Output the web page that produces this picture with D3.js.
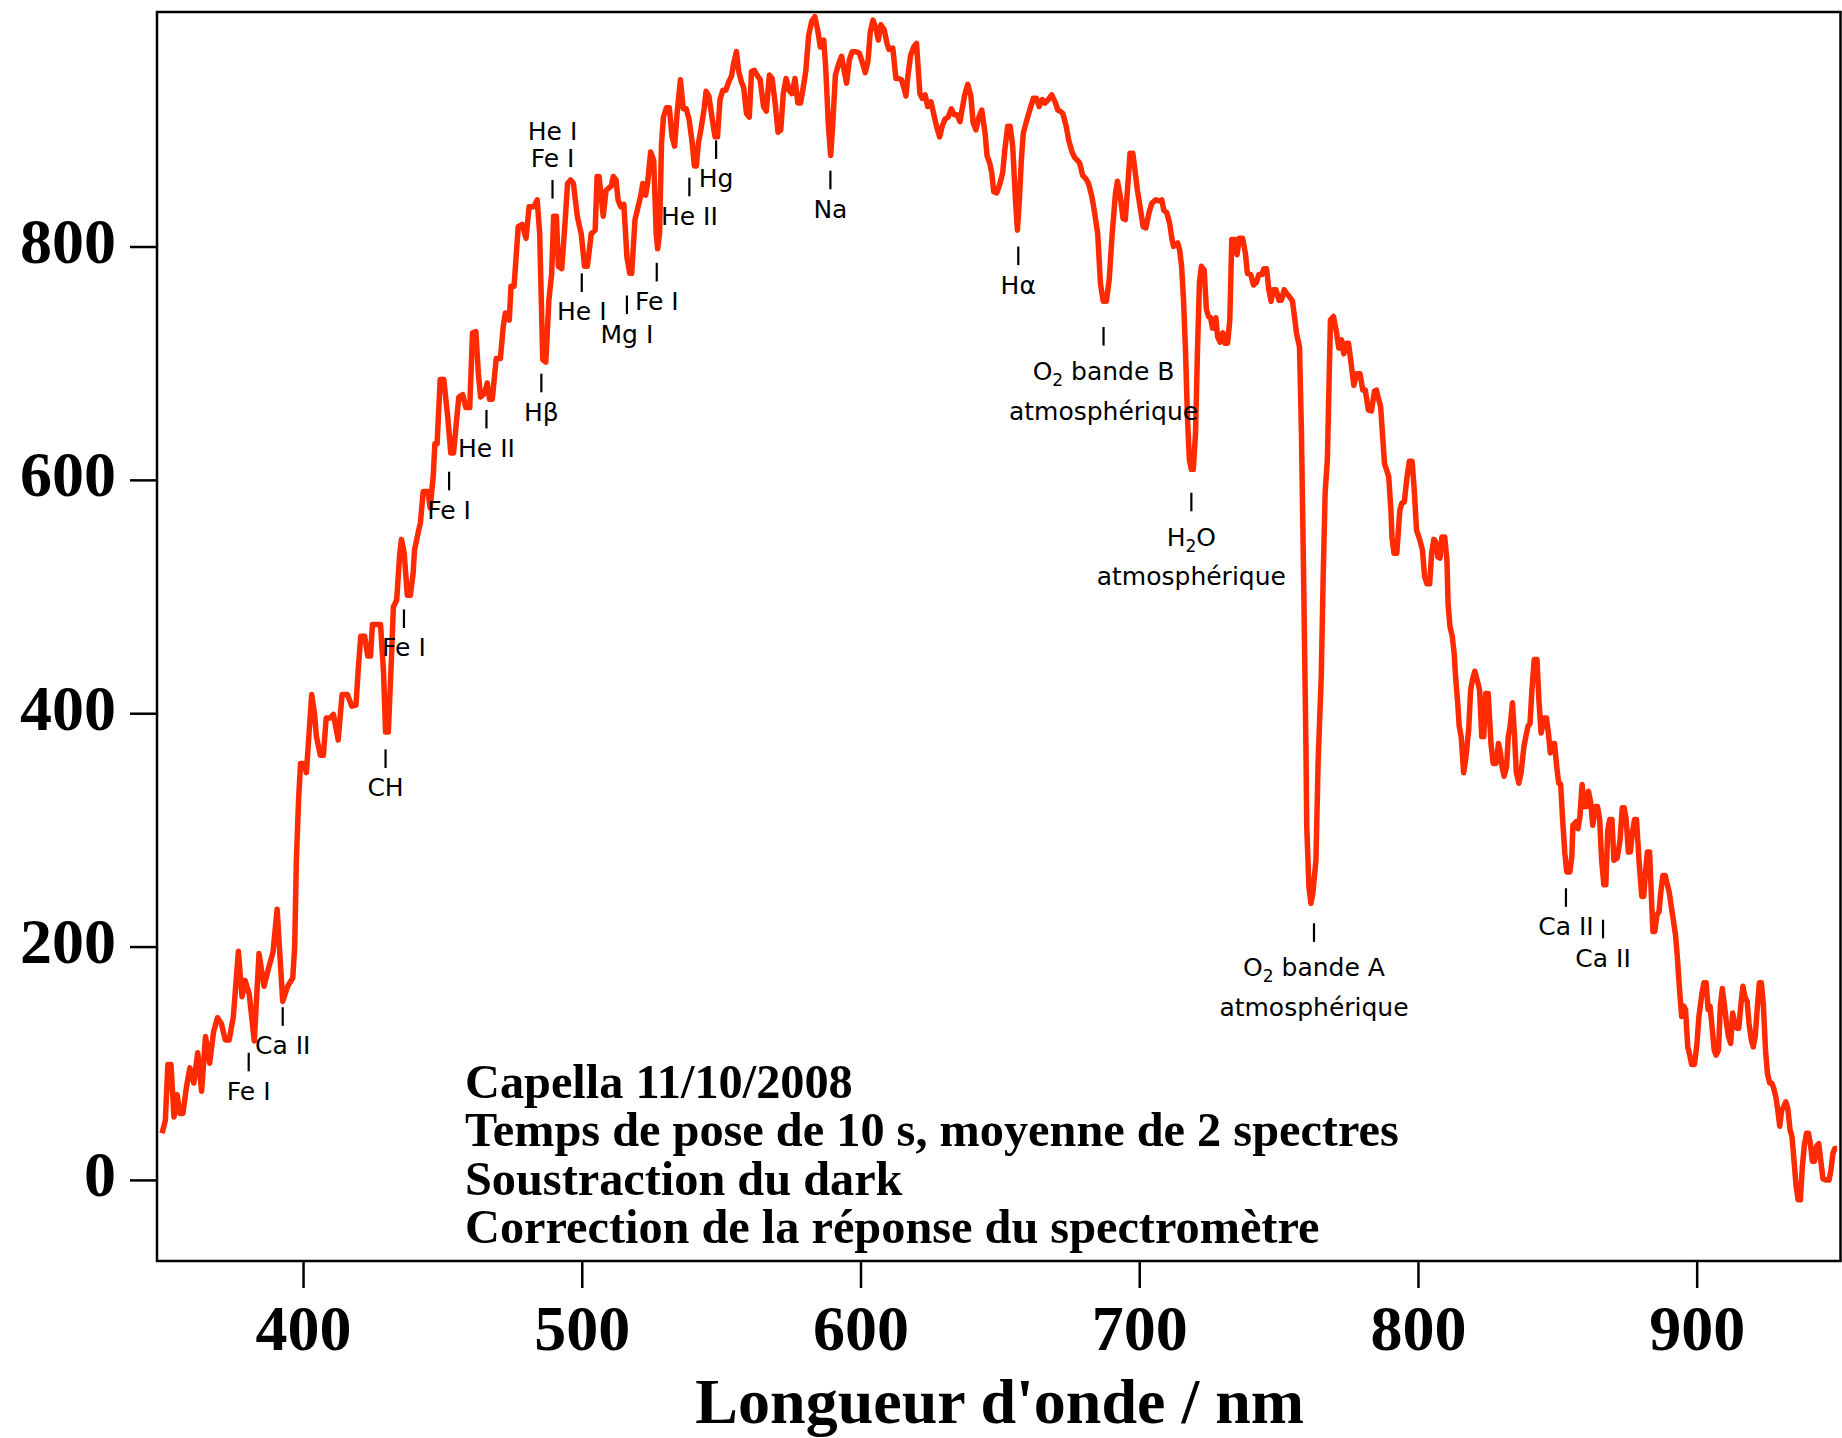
<!DOCTYPE html>
<html>
<head>
<meta charset="utf-8">
<script src="https://cdn.jsdelivr.net/npm/d3@7"></script>
<style>
  html, body { margin: 0; padding: 0; background: #ffffff; }
  svg { display: block; }
</style>
</head>
<body>
<svg id="chart" width="1842" height="1438"></svg>
<script>
// Spectrum of Capella: wavelength (nm) and corrected intensity
const wavelength = [
  349.4,350.6,351.5,352.6,353.7,354.8,355.8,356.9,358.2,359.4,360.8,362.2,363.6,365.0,366.5,367.9,369.3,370.7,372.1,373.5,
  375.0,376.8,378.1,379.2,380.7,382.5,384.2,386.0,387.8,389.2,390.7,392.7,394.5,396.3,397.0,397.6,398.4,399.1,400.3,401.2,
  403.1,404.1,404.8,406.2,407.3,408.3,409.8,410.9,412.6,414.0,415.9,417.5,419.0,419.7,420.7,422.1,423.2,424.2,424.9,427.8,
  428.9,429.6,430.6,431.7,432.4,433.6,434.6,435.3,436.3,437.4,438.5,439.5,440.0,441.4,442.1,443.1,444.8,445.6,446.7,447.3,
  448.1,449.2,450.5,451.9,453.0,454.0,455.2,455.9,457.3,458.4,459.8,460.8,462.0,462.9,463.7,465.1,466.1,466.9,467.9,469.3,
  470.8,471.8,472.6,474.0,474.6,475.7,477.2,478.6,480.0,481.1,482.8,484.0,484.9,486.0,487.1,488.2,489.2,489.9,490.9,491.6,
  492.8,493.9,494.9,496.0,497.0,498.4,499.2,499.8,501.0,502.0,503.4,504.8,505.5,506.2,507.7,508.7,510.6,511.3,512.3,513.0,
  514.0,515.1,516.2,517.2,517.9,519.1,520.1,521.1,521.9,522.9,523.6,524.7,525.8,526.7,527.2,527.9,528.6,529.3,530.4,531.4,
  532.4,533.3,534.3,535.4,536.4,537.5,538.5,539.5,540.4,541.1,541.8,542.8,543.9,544.6,545.6,546.7,547.8,548.7,549.6,550.6,
  551.7,552.7,553.7,554.5,555.5,556.3,557.3,558.1,559.1,560.1,560.9,561.9,563.1,564.0,565.2,566.2,567.3,568.3,569.5,570.4,
  571.4,572.3,573.3,574.4,575.4,576.5,577.5,578.5,579.7,580.4,581.4,582.5,583.6,584.6,585.6,586.8,587.5,588.5,589.3,590.0,
  591.0,592.1,593.2,594.2,595.0,596.0,597.0,598.1,599.5,600.5,601.7,602.7,603.5,604.5,605.6,606.4,607.3,608.5,609.5,610.2,
  611.6,612.7,613.7,614.7,615.6,616.3,617.0,618.0,619.1,620.1,621.3,622.2,623.2,624.1,625.3,626.5,627.5,628.4,629.3,630.3,
  631.5,632.6,633.6,634.7,635.7,636.4,637.4,638.5,639.6,640.4,641.4,642.5,643.5,644.7,645.4,646.4,647.1,647.8,648.9,649.9,
  651.0,651.8,652.8,653.7,654.6,655.6,656.3,657.0,657.7,658.4,659.5,660.6,662.0,663.1,664.1,665.2,666.2,667.4,668.6,669.8,
  670.8,671.6,672.6,673.8,674.7,675.9,676.9,677.8,678.7,679.7,680.9,681.8,683.0,684.0,685.1,686.1,687.1,688.2,689.2,690.3,
  691.5,692.2,693.2,694.2,695.0,696.0,696.7,697.7,698.6,699.3,700.3,701.4,702.4,703.5,704.5,705.9,707.4,708.1,708.8,709.9,
  710.9,711.7,712.3,713.8,714.5,715.2,715.9,716.6,717.3,718.0,718.7,719.4,720.2,720.9,721.6,722.3,723.3,724.1,724.9,725.6,
  726.3,727.0,727.5,728.1,729.0,730.0,730.7,731.7,732.5,733.2,734.4,735.1,735.9,737.1,738.1,738.8,740.0,741.0,742.0,742.9,
  744.0,744.7,745.7,746.5,747.3,748.1,749.1,750.1,751.0,752.0,753.1,753.9,755.0,755.7,756.4,757.5,758.2,758.9,759.8,760.1,
  760.9,761.6,762.3,763.4,764.2,765.3,766.0,766.7,767.5,768.6,769.7,770.8,771.6,772.6,773.4,774.4,775.1,776.0,777.0,778.0,
  779.2,780.2,781.1,782.2,783.3,784.4,785.1,785.8,786.6,788.0,789.5,790.3,790.7,791.4,792.4,793.5,794.2,795.1,796.1,796.9,
  797.9,798.6,799.5,800.6,801.6,802.4,803.2,804.2,804.9,805.7,806.4,807.1,807.9,808.6,809.6,810.4,810.8,811.5,812.3,813.0,
  813.5,814.2,814.8,815.5,816.4,817.1,818.2,818.9,819.6,820.4,821.4,822.1,822.9,823.6,824.3,825.2,826.2,827.0,828.0,828.9,
  829.6,830.2,830.9,831.8,832.4,833.1,833.9,834.6,835.3,836.2,837.0,838.0,838.7,839.5,840.2,840.9,841.7,842.7,843.4,844.2,
  845.3,846.1,846.8,847.5,848.3,849.0,849.8,850.5,851.2,851.9,852.7,853.4,854.5,855.2,855.6,856.8,857.4,858.1,858.9,859.6,
  860.5,861.2,862.0,862.7,863.7,864.4,865.2,865.9,866.7,867.4,868.1,868.8,869.6,870.3,871.5,872.5,873.3,874.0,874.7,875.5,
  876.2,876.9,877.7,878.4,879.4,880.3,881.0,881.6,882.3,883.1,883.8,884.3,885.0,885.7,886.5,887.1,887.9,888.7,889.4,890.2,
  890.9,891.6,892.4,893.1,893.8,894.6,895.3,896.0,896.8,897.5,898.2,899.2,900.0,900.8,901.9,902.6,903.4,904.1,904.8,905.6,
  906.3,907.0,907.8,908.5,909.2,910.0,910.7,911.4,912.2,912.9,913.7,914.4,915.1,915.9,916.6,917.3,918.1,918.8,919.6,920.3,
  921.0,921.8,922.5,923.2,923.9,924.7,925.4,926.2,926.9,927.6,928.4,929.1,929.8,930.5,931.3,932.0,932.7,933.5,934.2,934.9,
  935.7,936.4,937.2,937.9,938.6,939.4,940.1,940.8,941.5,942.3,943.0,943.8,944.5,945.3,946.3,947.5,948.2,948.9,949.6,950.4
];
const intensity = [
  40,51,99,99,54,73,57,57,80,96,83,109,76,123,100,127,139,134,120,120,
  140,196,157,171,159,119,194,166,183,195,232,153,166,173,200,274,326,357,357,349,
  416,400,380,364,364,396,396,399,377,416,416,406,407,434,466,466,449,449,476,476,
  434,384,384,446,491,497,534,549,537,501,501,520,540,556,563,590,590,576,603,631,
  631,686,686,654,623,623,654,671,673,662,662,726,727,691,671,674,683,669,669,704,
  704,731,743,737,766,766,817,819,807,834,834,840,811,703,701,754,777,826,826,783,
  781,817,854,857,854,826,817,811,783,783,811,814,860,860,826,848,852,860,857,840,
  834,836,791,777,777,823,833,843,854,844,854,881,874,811,798,811,888,911,919,919,
  894,886,917,943,918,918,909,891,869,869,888,901,918,933,929,911,894,894,926,934,
  934,941,946,957,967,950,941,936,914,911,950,951,946,943,920,916,947,944,920,898,
  900,931,944,934,931,944,923,923,940,951,981,993,997,986,971,977,954,903,878,903,
  947,956,963,950,940,960,967,967,966,959,949,959,984,994,986,977,990,986,974,969,
  970,944,944,943,936,929,946,964,971,974,931,927,930,920,924,911,901,894,903,909,
  911,918,913,913,907,917,930,939,929,906,900,911,917,897,878,871,863,847,846,853,
  863,883,903,903,886,840,814,840,874,897,907,916,927,927,920,926,923,926,930,924,
  917,916,914,903,891,881,876,874,871,861,858,854,843,829,811,768,753,753,771,811,
  846,856,843,824,823,856,880,880,863,849,834,817,816,829,837,840,839,840,831,829,
  820,807,800,803,797,783,754,711,654,617,609,609,640,711,769,783,780,746,740,739,
  730,730,739,723,718,726,717,717,737,806,806,793,807,807,794,777,776,767,769,776,
  776,781,781,763,753,763,763,754,754,763,759,757,753,740,726,714,640,530,374,303,
  251,237,246,274,360,431,517,589,617,737,740,726,713,720,708,717,717,700,681,691,
  691,677,677,660,659,676,677,670,663,614,603,574,550,537,537,574,580,581,603,616,
  616,594,557,549,540,517,511,511,537,549,547,534,533,551,551,531,494,474,466,451,
  431,411,389,380,349,360,386,420,429,436,427,420,380,380,417,417,374,357,357,374,
  366,354,346,354,380,389,409,383,349,340,349,371,380,389,391,420,446,446,411,383,
  396,396,383,366,374,374,354,340,339,309,280,264,264,277,304,307,301,311,339,320,
  320,333,323,304,320,320,309,274,253,253,300,309,309,274,276,291,319,319,309,281,
  281,297,309,309,271,243,243,263,281,281,240,213,213,227,230,246,261,261,254,246,
  234,223,210,190,165,140,149,146,114,107,99,99,114,140,160,169,169,146,149,129,
  111,107,111,149,164,149,134,123,117,143,134,130,130,151,166,157,153,134,120,114,
  123,149,169,169,151,111,91,83,83,79,71,60,46,60,63,67,61,43,37,17,
  -6,-17,-17,11,29,40,40,31,16,16,29,31,17,1,0,0,9,23,27,27
];

// Axis ticks and texts
const xTicks = [400, 500, 600, 700, 800, 900];
const yTicks = [0, 200, 400, 600, 800];
const xTitle = "Longueur d'onde / nm";
const notes = [
  "Capella 11/10/2008",
  "Temps de pose de 10 s, moyenne de 2 spectres",
  "Soustraction du dark",
  "Correction de la réponse du spectromètre"
];

// Identified lines: wavelength (nm) and intensity level of the marker's upper end.
// "_x" marks a subscript character.
const lineLabels = [
  { lines: ["Fe I"], nm: 380.5, top: 109 },
  { lines: ["Ca II"], nm: 392.7, top: 148 },
  { lines: ["CH"], nm: 429.6, top: 369 },
  { lines: ["Fe I"], nm: 436.2, top: 489 },
  { lines: ["Fe I"], nm: 452.4, top: 607 },
  { lines: ["He II"], nm: 465.8, top: 660 },
  { lines: ["Hβ"], nm: 485.5, top: 691 },
  { lines: ["He I", "Fe I"], nm: 489.5, top: 857, above: true },
  { lines: ["He I"], nm: 500.0, top: 777 },
  { lines: ["Mg I"], nm: 516.2, top: 758 },
  { lines: ["Fe I"], nm: 526.9, top: 786 },
  { lines: ["He II"], nm: 538.6, top: 859 },
  { lines: ["Hg"], nm: 548.2, top: 891 },
  { lines: ["Na"], nm: 589.2, top: 865 },
  { lines: ["Hα"], nm: 656.6, top: 800 },
  { lines: ["O_2 bande B", "atmosphérique"], nm: 687.2, top: 731 },
  { lines: ["H_2O", "atmosphérique"], nm: 718.7, top: 589 },
  { lines: ["O_2 bande A", "atmosphérique"], nm: 762.7, top: 220 },
  { lines: ["Ca II"], nm: 853.1, top: 250 },
  { lines: ["Ca II"], nm: 866.4, top: 223 }
];

const serif = "'Liberation Serif', 'Times New Roman', Times, serif";
const sans = "'DejaVu Sans', Verdana, sans-serif";
const lineColor = "#ff2a00";

const svg = d3.select("#chart");

const x = d3.scaleLinear().domain([347.6, 951.6]).range([157, 1840.5]);
const y = d3.scaleLinear().domain([-69.5, 1001]).range([1261, 12]);

const [x0, x1] = x.range();
const [yb, yt] = y.range();

// Axes (ticks outside the frame)
const yAxis = d3.axisLeft(y).tickValues(yTicks).tickSize(27).tickSizeOuter(0).tickPadding(14)
  .tickFormat(d3.format("d"));
const gy = svg.append("g").attr("transform", `translate(${x0},0)`).call(yAxis);
gy.select(".domain").remove();
gy.selectAll(".tick line").attr("stroke", "#000").attr("stroke-width", 2.5);
gy.selectAll(".tick text")
  .attr("fill", "#000").attr("dy", "0.25em")
  .style("font-family", serif).style("font-weight", "bold").style("font-size", "64px");

const xAxis = d3.axisBottom(x).tickValues(xTicks).tickSize(27).tickSizeOuter(0).tickPadding(17)
  .tickFormat(d3.format("d"));
const gx = svg.append("g").attr("transform", `translate(0,${yb})`).call(xAxis);
gx.select(".domain").remove();
gx.selectAll(".tick line").attr("stroke", "#000").attr("stroke-width", 2.5);
gx.selectAll(".tick text")
  .attr("fill", "#000")
  .style("font-family", serif).style("font-weight", "bold").style("font-size", "64px");

// Axis title
svg.append("text")
  .attr("x", (x0 + x1) / 2 + 1)
  .attr("y", 1423)
  .attr("text-anchor", "middle")
  .style("font-family", serif).style("font-weight", "bold").style("font-size", "64px")
  .text(xTitle);

// Plot frame
svg.append("rect")
  .attr("x", x0).attr("y", yt)
  .attr("width", x1 - x0).attr("height", yb - yt)
  .attr("fill", "none").attr("stroke", "#000").attr("stroke-width", 2.5);

// Spectrum
const idx = d3.range(wavelength.length);
const line = d3.line()
  .x(i => x(wavelength[i]))
  .y(i => y(intensity[i]));
svg.append("path")
  .datum(idx)
  .attr("d", line)
  .attr("fill", "none")
  .attr("stroke", lineColor)
  .attr("stroke-width", 5.5)
  .attr("stroke-linejoin", "round");

// Acquisition notes
const notesG = svg.append("g")
  .style("font-family", serif).style("font-weight", "bold").style("font-size", "48.3px");
notes.forEach((t, i) => {
  notesG.append("text").attr("x", 465).attr("y", 1098 + i * 48.4).text(t);
});

// Writes a label string into a text element, handling "_x" subscripts
function writeLabel(textSel, str) {
  const parts = str.split(/(_.)/).filter(s => s.length);
  let shifted = false;
  parts.forEach(p => {
    if (p.startsWith("_")) {
      textSel.append("tspan").attr("dy", 6).style("font-size", "17px").text(p.slice(1));
      shifted = true;
    } else {
      const ts = textSel.append("tspan").text(p);
      if (shifted) { ts.attr("dy", -6); shifted = false; }
    }
  });
}

// Line identifications
const markLen = 18.6;
const labelsG = svg.append("g")
  .style("font-family", sans).style("font-size", "25px").attr("fill", "#000");

lineLabels.forEach(lab => {
  const cx = x(lab.nm);
  const ty = y(lab.top);
  labelsG.append("line")
    .attr("x1", cx).attr("x2", cx)
    .attr("y1", ty).attr("y2", ty + markLen)
    .attr("stroke", "#000").attr("stroke-width", 2.2);
  if (lab.above) {
    const n = lab.lines.length;
    lab.lines.forEach((s, i) => {
      const t = labelsG.append("text").attr("x", cx).attr("text-anchor", "middle")
        .attr("y", ty - 12.7 - (n - 1 - i) * 27.3);
      writeLabel(t, s);
    });
  } else {
    const hasSub = lab.lines[0].includes("_");
    const base = ty + (hasSub ? 53 : 47);
    lab.lines.forEach((s, i) => {
      const t = labelsG.append("text").attr("x", cx).attr("text-anchor", "middle")
        .attr("y", base + i * 39.7);
      writeLabel(t, s);
    });
  }
});
</script>
</body>
</html>
